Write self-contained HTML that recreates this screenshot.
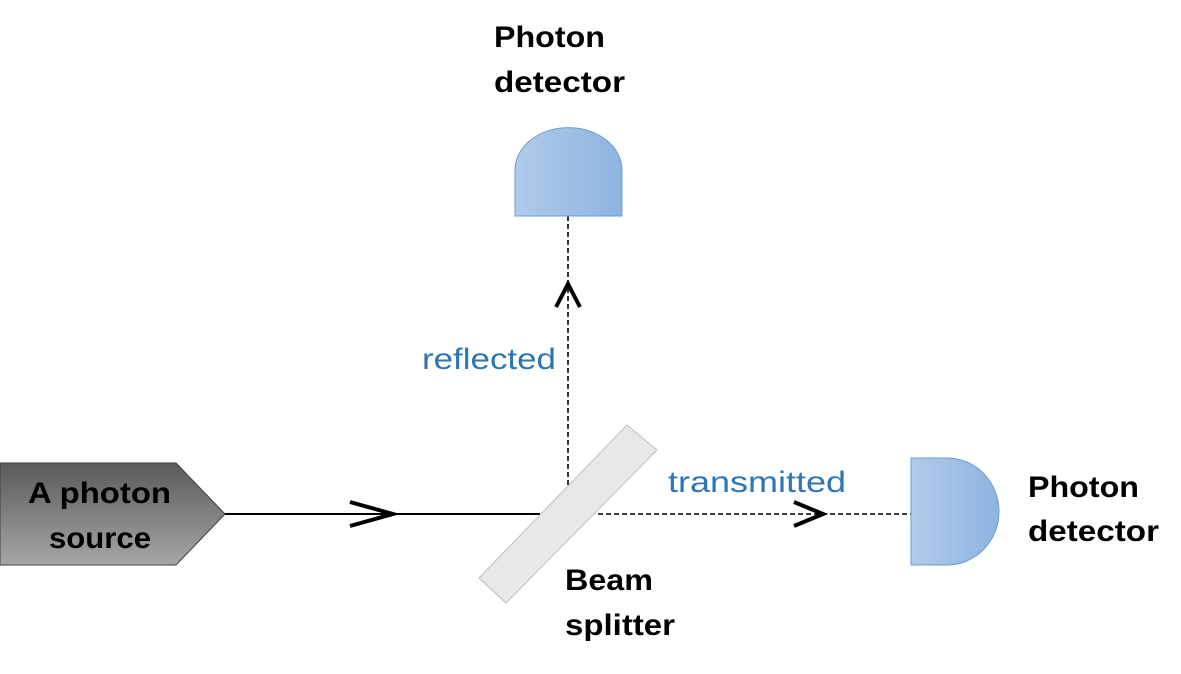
<!DOCTYPE html>
<html><head><meta charset="utf-8"><style>
body{margin:0;background:#fff;width:1181px;height:669px;overflow:hidden}
text{font-family:"Liberation Sans",sans-serif}
</style></head><body>
<svg width="1181" height="669" viewBox="0 0 1181 669">
<defs>
<linearGradient id="gs" x1="0" y1="0" x2="0" y2="1"><stop offset="0" stop-color="#5a5a5a"/><stop offset="1" stop-color="#a6a6a6"/></linearGradient>
<linearGradient id="gb" x1="0" y1="0" x2="1" y2="0"><stop offset="0" stop-color="#b0cbea"/><stop offset="1" stop-color="#8eb3e0"/></linearGradient>
</defs>
<polygon points="0,463 176,463 225,514 176,565 0,565" fill="url(#gs)" stroke="#404040" stroke-width="1"/>
<text x="28" y="503" textLength="143" lengthAdjust="spacingAndGlyphs" font-size="30" font-weight="bold" fill="#000">A photon</text>
<text x="49" y="548" textLength="102" lengthAdjust="spacingAndGlyphs" font-size="30" font-weight="bold" fill="#000">source</text>
<line x1="225" y1="514" x2="540" y2="514" stroke="#000" stroke-width="2"/>
<polyline points="350,502 393,514 350,526" fill="none" stroke="#000" stroke-width="4"/>
<line x1="568" y1="493" x2="568" y2="216" stroke="#000" stroke-width="1.6" stroke-dasharray="5,3"/>
<polyline points="556,307 568,284 580,307" fill="none" stroke="#000" stroke-width="4"/>
<line x1="598" y1="514" x2="911" y2="514" stroke="#000" stroke-width="1.6" stroke-dasharray="5,3"/>
<polyline points="794,502 823,514 794,526" fill="none" stroke="#000" stroke-width="4"/>
<polygon points="627,425 657,450 506,603 479,578" fill="#e8e8e8" stroke="#bfbfbf" stroke-width="1"/>
<path d="M515,216 L515,170 A53,42 0 0 1 622,170 L622,216 Z" fill="url(#gb)" stroke="#6f9bd3" stroke-width="1"/>
<path d="M911,458 L947,458 A52,53.5 0 0 1 947,565 L911,565 Z" fill="url(#gb)" stroke="#6f9bd3" stroke-width="1"/>
<text x="494" y="47" textLength="111" lengthAdjust="spacingAndGlyphs" font-size="30" font-weight="bold">Photon</text>
<text x="494" y="92" textLength="131" lengthAdjust="spacingAndGlyphs" font-size="30" font-weight="bold">detector</text>
<text x="1028" y="497" textLength="111" lengthAdjust="spacingAndGlyphs" font-size="30" font-weight="bold">Photon</text>
<text x="1028" y="541" textLength="131" lengthAdjust="spacingAndGlyphs" font-size="30" font-weight="bold">detector</text>
<text x="565" y="590" textLength="88" lengthAdjust="spacingAndGlyphs" font-size="30" font-weight="bold">Beam</text>
<text x="565" y="635" textLength="110" lengthAdjust="spacingAndGlyphs" font-size="30" font-weight="bold">splitter</text>
<text x="422" y="369" textLength="134" lengthAdjust="spacingAndGlyphs" font-size="30" fill="#2e75b6">reflected</text>
<text x="668" y="492" textLength="178" lengthAdjust="spacingAndGlyphs" font-size="30" fill="#2e75b6">transmitted</text>
</svg>
</body></html>
